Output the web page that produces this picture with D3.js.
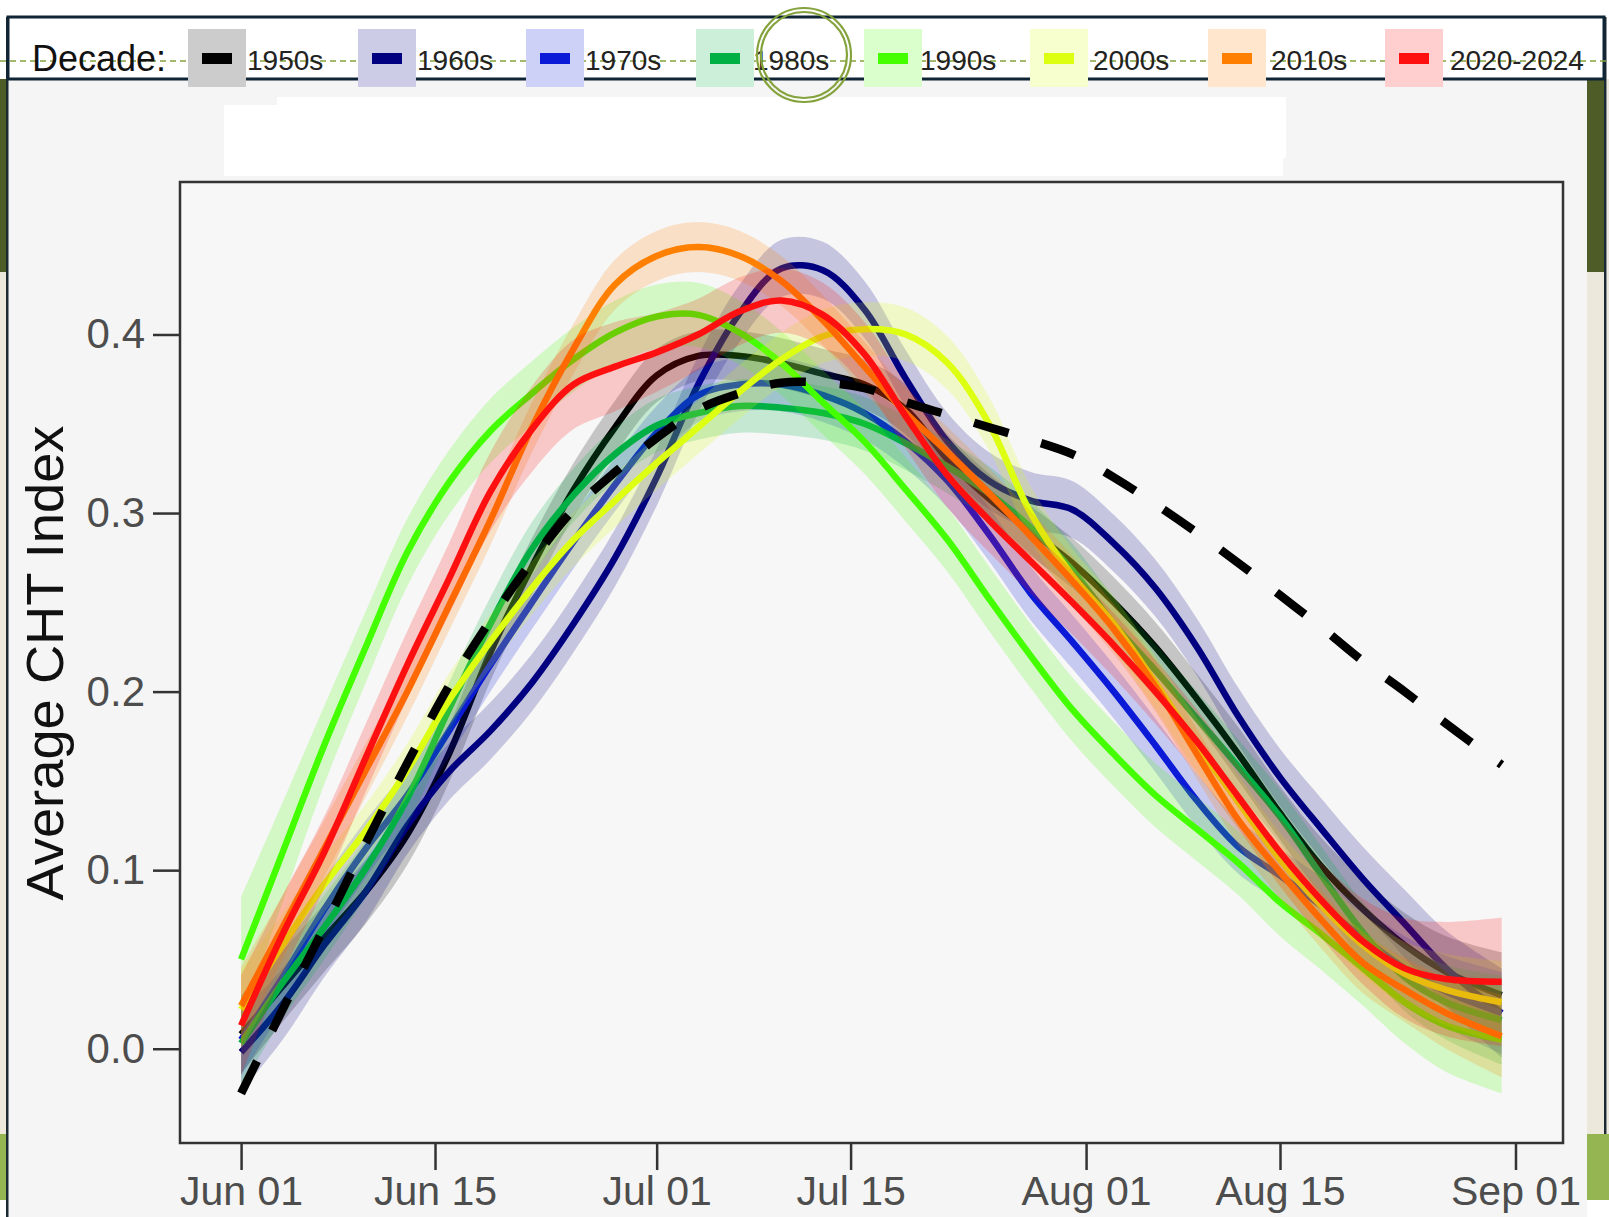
<!DOCTYPE html>
<html>
<head>
<meta charset="utf-8">
<script src="https://cdn.jsdelivr.net/npm/d3@7"></script>
<style>
  html, body { margin: 0; padding: 0; background: #ffffff; overflow: hidden; }
  svg { display: block; }
</style>
</head>
<body>
<svg id="chart" width="1609" height="1217"></svg>
<script>
// ---- data -------------------------------------------------------------
// Days after June 1 at which each smoothed curve is sampled.
const dayOffsets = [0, 3, 6, 9, 12, 15, 18, 21, 24, 27,
                    30, 33, 36, 39, 42, 45, 48, 51, 54, 57,
                    60, 63, 66, 69, 72, 75, 78, 81, 84, 87, 91];

const decades = ["1950s", "1960s", "1970s", "1980s", "1990s", "2000s", "2010s", "2020-2024"];
const decadeColors = ["#000000", "#000080", "#0a1ad6", "#00b045", "#44ff00", "#ddff11", "#ff8000", "#ff1010"];

// Smoothed average CHT index per decade
const cht1950s = [0.008, 0.035, 0.062, 0.088, 0.120, 0.165, 0.222, 0.270, 0.313, 0.348,
                  0.377, 0.388, 0.388, 0.384, 0.378, 0.372, 0.358, 0.330, 0.308, 0.290,
                  0.272, 0.250, 0.225, 0.196, 0.165, 0.132, 0.102, 0.078, 0.058, 0.043, 0.030];
const cht1960s = [-0.002, 0.025, 0.058, 0.088, 0.125, 0.155, 0.178, 0.205, 0.238, 0.275,
                  0.320, 0.372, 0.412, 0.437, 0.436, 0.414, 0.375, 0.340, 0.318, 0.307,
                  0.302, 0.283, 0.258, 0.225, 0.186, 0.152, 0.123, 0.095, 0.070, 0.045, 0.020];
const cht1970s = [0.005, 0.040, 0.078, 0.112, 0.142, 0.178, 0.215, 0.250, 0.284, 0.316,
                  0.345, 0.366, 0.372, 0.372, 0.366, 0.356, 0.340, 0.318, 0.288, 0.255,
                  0.228, 0.200, 0.170, 0.139, 0.113, 0.097, 0.080, 0.062, 0.045, 0.032, 0.020];
const cht1980s = [0.003, 0.037, 0.068, 0.101, 0.140, 0.190, 0.238, 0.280, 0.310, 0.333,
                  0.349, 0.356, 0.360, 0.359, 0.356, 0.350, 0.339, 0.326, 0.311, 0.292,
                  0.268, 0.238, 0.212, 0.185, 0.158, 0.130, 0.097, 0.065, 0.040, 0.026, 0.016];
const cht1990s = [0.050, 0.110, 0.170, 0.225, 0.278, 0.317, 0.346, 0.367, 0.386, 0.401,
                  0.410, 0.411, 0.401, 0.384, 0.362, 0.340, 0.313, 0.285, 0.252, 0.220,
                  0.190, 0.165, 0.142, 0.123, 0.104, 0.082, 0.064, 0.045, 0.026, 0.013, 0.005];
const cht2000s = [0.022, 0.058, 0.092, 0.122, 0.156, 0.195, 0.228, 0.258, 0.285, 0.307,
                  0.328, 0.348, 0.368, 0.386, 0.399, 0.403, 0.400, 0.384, 0.350, 0.300,
                  0.265, 0.238, 0.205, 0.170, 0.138, 0.106, 0.080, 0.058, 0.042, 0.033, 0.026];
const cht2010s = [0.024, 0.068, 0.112, 0.156, 0.200, 0.248, 0.296, 0.348, 0.392, 0.428,
                  0.444, 0.449, 0.444, 0.430, 0.408, 0.382, 0.356, 0.334, 0.311, 0.287,
                  0.262, 0.235, 0.203, 0.165, 0.128, 0.099, 0.072, 0.048, 0.033, 0.020, 0.007];
const cht2020s = [0.013, 0.064, 0.110, 0.163, 0.215, 0.263, 0.312, 0.347, 0.372, 0.382,
                  0.390, 0.400, 0.413, 0.419, 0.411, 0.389, 0.354, 0.321, 0.296, 0.273,
                  0.250, 0.226, 0.200, 0.172, 0.141, 0.110, 0.083, 0.060, 0.045, 0.039, 0.0375];

// Long-term reference curve (dashed)
const chtReference = [-0.025, 0.022, 0.068, 0.115, 0.160, 0.203, 0.240, 0.273, 0.302, 0.323,
                      0.342, 0.358, 0.367, 0.373, 0.373, 0.370, 0.362, 0.355, 0.348, 0.341,
                      0.333, 0.320, 0.305, 0.289, 0.272, 0.254, 0.236, 0.217, 0.200, 0.182, 0.159];

// Half-width of the confidence band around each smooth
const band1950s = [0.022, 0.020, 0.019, 0.018, 0.017, 0.016, 0.016, 0.016, 0.015, 0.015,
                   0.015, 0.014, 0.014, 0.014, 0.014, 0.014, 0.014, 0.014, 0.014, 0.014,
                   0.014, 0.014, 0.014, 0.014, 0.015, 0.015, 0.016, 0.017, 0.018, 0.020, 0.024];
const band1960s = [0.022, 0.020, 0.018, 0.017, 0.016, 0.016, 0.016, 0.016, 0.016, 0.016,
                   0.016, 0.016, 0.016, 0.016, 0.016, 0.016, 0.016, 0.016, 0.016, 0.016,
                   0.016, 0.016, 0.016, 0.016, 0.016, 0.016, 0.017, 0.018, 0.019, 0.021, 0.025];
const band1970s = [0.020, 0.018, 0.017, 0.016, 0.015, 0.015, 0.015, 0.015, 0.015, 0.015,
                   0.015, 0.015, 0.015, 0.015, 0.015, 0.015, 0.015, 0.015, 0.015, 0.015,
                   0.015, 0.015, 0.015, 0.015, 0.015, 0.015, 0.016, 0.017, 0.018, 0.020, 0.023];
const band1980s = [0.025, 0.020, 0.018, 0.016, 0.015, 0.015, 0.015, 0.015, 0.015, 0.015,
                   0.015, 0.015, 0.015, 0.015, 0.015, 0.015, 0.015, 0.015, 0.015, 0.015,
                   0.015, 0.015, 0.015, 0.015, 0.015, 0.015, 0.016, 0.017, 0.019, 0.021, 0.025];
const band1990s = [0.035, 0.028, 0.022, 0.020, 0.019, 0.018, 0.018, 0.018, 0.018, 0.018,
                   0.018, 0.018, 0.018, 0.018, 0.018, 0.018, 0.018, 0.018, 0.018, 0.018,
                   0.018, 0.018, 0.018, 0.018, 0.018, 0.019, 0.020, 0.021, 0.023, 0.026, 0.030];
const band2000s = [0.022, 0.018, 0.016, 0.015, 0.015, 0.015, 0.015, 0.015, 0.015, 0.015,
                   0.015, 0.015, 0.015, 0.015, 0.015, 0.015, 0.015, 0.015, 0.015, 0.015,
                   0.015, 0.015, 0.015, 0.015, 0.015, 0.015, 0.016, 0.017, 0.018, 0.020, 0.023];
const band2010s = [0.022, 0.018, 0.016, 0.015, 0.014, 0.014, 0.014, 0.014, 0.014, 0.014,
                   0.014, 0.014, 0.014, 0.014, 0.014, 0.014, 0.014, 0.014, 0.014, 0.014,
                   0.014, 0.014, 0.014, 0.014, 0.014, 0.015, 0.016, 0.017, 0.018, 0.020, 0.023];
const band2020s = [0.028, 0.022, 0.020, 0.019, 0.019, 0.020, 0.022, 0.024, 0.025, 0.025,
                   0.022, 0.020, 0.019, 0.018, 0.018, 0.018, 0.018, 0.018, 0.018, 0.018,
                   0.018, 0.018, 0.018, 0.018, 0.018, 0.019, 0.021, 0.024, 0.028, 0.032, 0.036];

const xTickDates = ["2023-06-01", "2023-06-15", "2023-07-01", "2023-07-15",
                    "2023-08-01", "2023-08-15", "2023-09-01"];
const yTickValues = [0.0, 0.1, 0.2, 0.3, 0.4];

const seriesValues = [cht1950s, cht1960s, cht1970s, cht1980s, cht1990s, cht2000s, cht2010s, cht2020s];
const seriesBands  = [band1950s, band1960s, band1970s, band1980s, band1990s, band2000s, band2010s, band2020s];

// ---- helpers ----------------------------------------------------------
const FONT = "'Liberation Sans', Arial, Helvetica, sans-serif";
const seasonStart = Date.UTC(2023, 5, 1);
const dayToDate = d => new Date(seasonStart + d * 864e5);
const parseDay = d3.utcParse("%Y-%m-%d");

const series = decades.map((name, i) => ({
  name,
  color: decadeColors[i],
  points: dayOffsets.map((d, j) => ({ date: dayToDate(d), v: seriesValues[i][j], se: seriesBands[i][j] }))
}));
const reference = dayOffsets.map((d, j) => ({ date: dayToDate(d), v: chtReference[j] }));

// ---- layout -----------------------------------------------------------
const W = 1609, H = 1217;
const plot = { left: 180, top: 182, right: 1563, bottom: 1143 };

const svg = d3.select("#chart");

// page / frame background
svg.append("rect").attr("width", W).attr("height", H).attr("fill", "#ffffff");
svg.append("rect").attr("x", 8).attr("y", 79).attr("width", 1579).attr("height", H - 79).attr("fill", "#f5f5f5");

// frame edge strips
const strips = [
  { x: 0, y: 79, w: 6, h: 193, c: "#4e5d27" },
  { x: 0, y: 272, w: 6, h: 862, c: "#ece9dc" },
  { x: 0, y: 1134, w: 6, h: 66, c: "#94b552" },
  { x: 1587, y: 79, w: 17, h: 193, c: "#4e5d27" },
  { x: 1587, y: 272, w: 17, h: 862, c: "#ece9dc" },
  { x: 1587, y: 1134, w: 22, h: 66, c: "#94b552" },
  { x: 1607, y: 79, w: 2, h: 1055, c: "#ece9dc" }
];
svg.selectAll("rect.strip").data(strips).join("rect").attr("class", "strip")
  .attr("x", d => d.x).attr("y", d => d.y).attr("width", d => d.w).attr("height", d => d.h)
  .attr("fill", d => d.c);
svg.append("rect").attr("x", 6).attr("y", 17).attr("width", 2.5).attr("height", H - 17).attr("fill", "#1b2a33");
svg.append("rect").attr("x", 1604).attr("y", 17).attr("width", 2.5).attr("height", 1117).attr("fill", "#1b2a33");

// blank title panel
svg.append("rect").attr("x", 277).attr("y", 97).attr("width", 1009).attr("height", 61).attr("fill", "#ffffff");
svg.append("rect").attr("x", 224).attr("y", 105).attr("width", 1059).attr("height", 71).attr("fill", "#ffffff");

// plot panel
svg.append("rect").attr("x", plot.left).attr("y", plot.top)
  .attr("width", plot.right - plot.left).attr("height", plot.bottom - plot.top).attr("fill", "#f7f7f7");

// ---- scales -----------------------------------------------------------
const x = d3.scaleUtc()
  .domain([dayToDate(-4.41), dayToDate(95.43)])
  .range([plot.left, plot.right]);
const y = d3.scaleLinear()
  .domain([-0.0528, 0.4854])
  .range([plot.bottom, plot.top]);

svg.append("clipPath").attr("id", "plot-clip").append("rect")
  .attr("x", plot.left).attr("y", plot.top)
  .attr("width", plot.right - plot.left).attr("height", plot.bottom - plot.top);

const curve = d3.curveCatmullRom.alpha(0.5);
const area = d3.area().x(d => x(d.date)).y0(d => y(d.v - d.se)).y1(d => y(d.v + d.se)).curve(curve);
const line = d3.line().x(d => x(d.date)).y(d => y(d.v)).curve(curve);

const marks = svg.append("g").attr("clip-path", "url(#plot-clip)");

// ribbon + line for each decade
series.forEach(s => {
  const g = marks.append("g").attr("class", "decade");
  g.append("path").datum(s.points).attr("d", area)
    .attr("fill", s.color).attr("fill-opacity", 0.2).attr("stroke", "none");
  g.append("path").datum(s.points).attr("d", line)
    .attr("fill", "none").attr("stroke", s.color).attr("stroke-width", 6.5)
    .attr("stroke-linejoin", "round");
});

// reference curve
marks.append("path").datum(reference).attr("d", line)
  .attr("fill", "none").attr("stroke", "#000000").attr("stroke-width", 8.5)
  .attr("stroke-dasharray", "36,34");

// panel border
svg.append("rect").attr("x", plot.left).attr("y", plot.top)
  .attr("width", plot.right - plot.left).attr("height", plot.bottom - plot.top)
  .attr("fill", "none").attr("stroke", "#333333").attr("stroke-width", 2.5);

// ---- axes -------------------------------------------------------------
const gx = svg.append("g").attr("transform", `translate(0,${plot.bottom})`)
  .call(d3.axisBottom(x).tickValues(xTickDates.map(parseDay))
    .tickFormat(d3.utcFormat("%b %d")).tickSize(27).tickPadding(6));
gx.select(".domain").remove();
gx.selectAll(".tick line").attr("stroke", "#333333").attr("stroke-width", 2.5);
gx.selectAll(".tick text").attr("fill", "#4d4d4d").attr("font-size", 41).attr("font-family", FONT);

const gy = svg.append("g").attr("transform", `translate(${plot.left},0)`)
  .call(d3.axisLeft(y).tickValues(yTickValues).tickFormat(d3.format(".1f")).tickSize(27).tickPadding(8));
gy.select(".domain").remove();
gy.selectAll(".tick line").attr("stroke", "#333333").attr("stroke-width", 2.5);
gy.selectAll(".tick text").attr("fill", "#4d4d4d").attr("font-size", 42).attr("font-family", FONT);

svg.append("text")
  .attr("transform", "translate(63,663) rotate(-90)")
  .attr("text-anchor", "middle")
  .attr("font-family", FONT).attr("font-size", 51).attr("fill", "#111111")
  .attr("textLength", 475).attr("lengthAdjust", "spacingAndGlyphs")
  .text("Average CHT Index");

// ---- legend -----------------------------------------------------------
const legend = svg.append("g");
legend.append("rect").attr("x", 8).attr("y", 17).attr("width", 1596).attr("height", 62)
  .attr("fill", "#ffffff").attr("stroke", "#0f2535").attr("stroke-width", 3);

// guide line across the legend strip (sits under the keys)
legend.append("line").attr("x1", 0).attr("x2", W).attr("y1", 61).attr("y2", 61)
  .attr("stroke", "#85a33d").attr("stroke-width", 1.6).attr("stroke-dasharray", "6,4");

legend.append("text").attr("x", 32).attr("y", 71)
  .attr("font-family", FONT).attr("font-size", 36).attr("fill", "#111111").text("Decade:");

const keyLeft = [188, 358, 526, 696, 864, 1030, 1208, 1385];
const labelLeft = [247, 417, 585, 753, 920, 1093, 1271, 1450];
const keys = legend.selectAll("g.key").data(series).join("g").attr("class", "key");
keys.append("rect").attr("x", (d, i) => keyLeft[i]).attr("y", 29).attr("width", 58).attr("height", 58)
  .attr("fill", "#ffffff");
keys.append("rect").attr("x", (d, i) => keyLeft[i]).attr("y", 29).attr("width", 58).attr("height", 58)
  .attr("fill", d => d.color).attr("fill-opacity", 0.2);
keys.append("rect").attr("x", (d, i) => keyLeft[i] + 14).attr("y", 53).attr("width", 30).attr("height", 11)
  .attr("fill", d => d.color);
keys.append("text").attr("x", (d, i) => labelLeft[i]).attr("y", 70)
  .attr("font-family", FONT).attr("font-size", 28).attr("fill", "#222222")
  .text(d => d.name);

// highlight rings
[47, 43].forEach(r => {
  svg.append("circle").attr("cx", 804).attr("cy", 55).attr("r", r)
    .attr("fill", "none").attr("stroke", "#85a33d").attr("stroke-width", 2.2);
});
</script>
</body>
</html>
